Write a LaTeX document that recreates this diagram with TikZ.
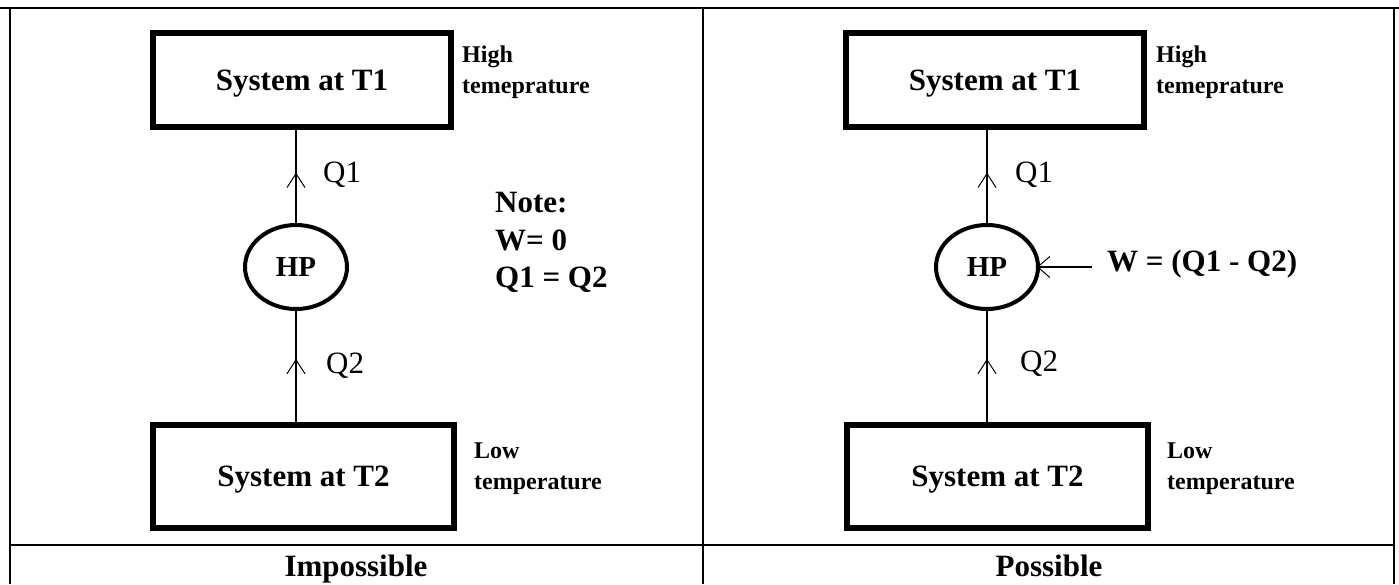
\documentclass[tikz,border=0pt]{standalone}
\usepackage{fontspec}
\setmainfont{Liberation Serif}
\usetikzlibrary{shapes.geometric,arrows.meta,decorations.markings}
\tikzset{
    tabline/.style={line width=2pt},
    sysbox/.style={draw, line width=5.5pt, inner sep=0pt, text depth=0pt, font=\bfseries\fontsize{31}{37}\selectfont},
    pump/.style={draw, ellipse, line width=4pt, minimum width=102pt, minimum height=84pt, inner sep=0pt, font=\bfseries\fontsize{29}{35}\selectfont},
    heatflow/.style={line width=1.5pt, postaction={decorate},
        decoration={markings, mark=at position #1 with {\arrow{Straight Barb[length=14pt,width=18pt,line width=1pt]}}}},
    sidetext/.style={align=left, anchor=base west, inner sep=0pt, font=\bfseries\fontsize{24}{31}\selectfont},
    qtext/.style={anchor=base west, inner sep=0pt, font=\fontsize{31}{37}\selectfont},
    caption/.style={anchor=base, inner sep=0pt, font=\bfseries\fontsize{31}{37}\selectfont}
}

\begin{document}
\begin{tikzpicture}[x=1pt,y=1pt]
    \useasboundingbox (0,0) rectangle (1399,584);
    % Table
    \draw[line width=1.5pt] (0,576) -- (1399,576);
    \draw[tabline] (10,577) -- (10,0);
    \draw[tabline] (703,577) -- (703,0);
    \draw[tabline] (1394,577) -- (1394,0);
    \draw[tabline] (10,39) -- (1394,39);

    % Impossible
    \node[sysbox, minimum width=298pt, minimum height=94pt] (hotL) at (302,504) {System at T1};
    \node[sysbox, minimum width=301pt, minimum height=103pt] (coldL) at (303.5,107.5) {System at T2};
    \node[pump] (hpL) at (296,317) {HP};
    \draw[heatflow=0.54] (hpL.north) -- (hpL.north |- hotL.south);
    \draw[heatflow=0.57] (hpL.south |- coldL.north) -- (hpL.south);
    \node[qtext] (q1L) at (323,401) {Q1};
    \node[qtext] (q2L) at (326,211) {Q2};
    \node[sidetext] (highL) at (462,490) {High\\temeprature};
    \node[sidetext] (lowL) at (474,95) {Low\\temperature};
    \node[sidetext, font=\bfseries\fontsize{31}{37.5}\selectfont] (note) at (495,296) {Note:\\W= 0\\Q1 = Q2};
    \node[caption] (impossible) at (356,8) {Impossible};

    % Possible
    \node[sysbox, minimum width=298pt, minimum height=94pt] (hotR) at (995,504) {System at T1};
    \node[sysbox, minimum width=301pt, minimum height=103pt] (coldR) at (997.5,107.5) {System at T2};
    \node[pump] (hpR) at (987,317) {HP};
    \draw[heatflow=0.54] (hpR.north) -- (hpR.north |- hotR.south);
    \draw[heatflow=0.57] (hpR.south |- coldR.north) -- (hpR.south);
    \node[qtext] (q1R) at (1015,401) {Q1};
    \node[qtext] (q2R) at (1020,212) {Q2};
    \node[sidetext] (highR) at (1156,490) {High\\temeprature};
    \node[sidetext] (lowR) at (1167,95) {Low\\temperature};
    \coordinate (wtail) at (1092,317);
    \draw[line width=1.5pt, -{Straight Barb[length=12pt,width=21pt,line width=1pt]}, shorten >=-3pt] (wtail) -- (hpR.east);
    \node[qtext, font=\bfseries\fontsize{31}{37}\selectfont] (work) at (1107,312) {W = (Q1 - Q2)};
    \node[caption] (possible) at (1049,8) {Possible};
\end{tikzpicture}
\end{document}
